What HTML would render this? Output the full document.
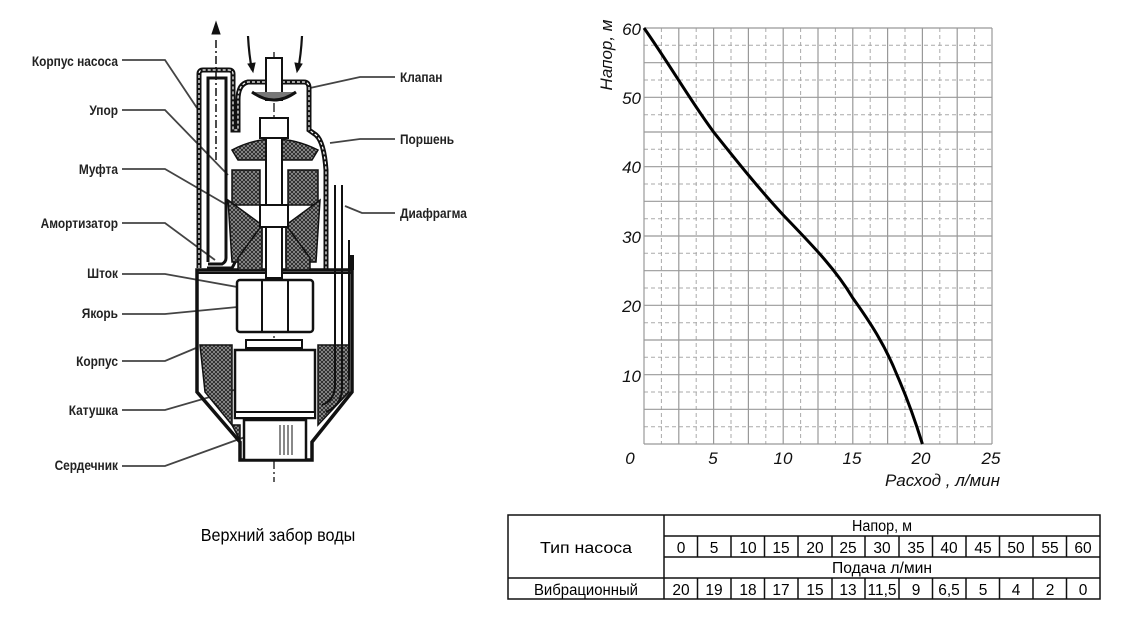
<!DOCTYPE html>
<html><head><meta charset="utf-8"><style>
html,body{margin:0;padding:0;background:#fff;}
svg{display:block}
.l{font-family:"Liberation Sans",sans-serif;font-size:14px;font-weight:bold;fill:#222;}
.g{font-family:"Liberation Sans",sans-serif;font-size:17px;font-style:italic;fill:#111;}
.t{font-family:"Liberation Sans",sans-serif;font-size:15.5px;fill:#000;}
</style></head><body>
<svg width="1128" height="631" viewBox="0 0 1128 631" xmlns="http://www.w3.org/2000/svg">
<defs>
<pattern id="h" width="4" height="4" patternUnits="userSpaceOnUse">
<rect width="4" height="4" fill="#999"/><path d="M0 0L4 4M4 0L0 4" stroke="#222" stroke-width="0.9"/>
</pattern>
</defs>

<!-- LEFT LABELS -->
<g class="l" text-anchor="end">
<text x="118" y="66" transform="translate(118 0) scale(0.85 1) translate(-118 0)">Корпус насоса</text>
<text x="118" y="115" transform="translate(118 0) scale(0.85 1) translate(-118 0)">Упор</text>
<text x="118" y="174" transform="translate(118 0) scale(0.85 1) translate(-118 0)">Муфта</text>
<text x="118" y="228" transform="translate(118 0) scale(0.85 1) translate(-118 0)">Амортизатор</text>
<text x="118" y="278" transform="translate(118 0) scale(0.85 1) translate(-118 0)">Шток</text>
<text x="118" y="318" transform="translate(118 0) scale(0.85 1) translate(-118 0)">Якорь</text>
<text x="118" y="366" transform="translate(118 0) scale(0.85 1) translate(-118 0)">Корпус</text>
<text x="118" y="415" transform="translate(118 0) scale(0.85 1) translate(-118 0)">Катушка</text>
<text x="118" y="470" transform="translate(118 0) scale(0.85 1) translate(-118 0)">Сердечник</text>
</g>
<g class="l">
<text x="400" y="82" transform="translate(400 0) scale(0.85 1) translate(-400 0)">Клапан</text>
<text x="400" y="144" transform="translate(400 0) scale(0.85 1) translate(-400 0)">Поршень</text>
<text x="400" y="218" transform="translate(400 0) scale(0.85 1) translate(-400 0)">Диафрагма</text>
</g>
<g stroke="#444" stroke-width="1.8" fill="none">
<path d="M122 60H165L197 108"/>
<path d="M122 110H165L228 175"/>
<path d="M122 169H165L227 205"/>
<path d="M122 223H165L215 260"/>
<path d="M122 274H165L265 292"/>
<path d="M122 314H165L248 306"/>
<path d="M122 361H165L196 348"/>
<path d="M122 410H165L255 384"/>
<path d="M122 466H165L245 437"/>
<path d="M395 77H360L310 88"/>
<path d="M395 139H360L330 143"/>
<path d="M395 213H362L345 206"/>
</g>

<!-- PUMP DRAWING -->
<g stroke="#111" fill="none">
<path d="M216 160V38" stroke-width="1.5" stroke-dasharray="8 3 2 3"/>
<path d="M216 22l-4 12h8z" fill="#111"/>
<path d="M274 52V482" stroke-width="1.3" stroke-dasharray="9 3 2 3"/>
<path d="M248 36Q249 55 252 70" stroke-width="2.2"/>
<path d="M302 36Q301 55 298 70" stroke-width="2.2"/>
<path d="M248 64l5 8 2-9z" fill="#111"/>
<path d="M302 64l-5 8-2-9z" fill="#111"/>
<path d="M199 268V74Q199 70 203 70H229Q233 70 233 74V130H238V100Q238 84 248 82H304Q309 82 309 88V130L316 135Q324 142 326 170V270" stroke-width="5"/>
<path d="M199 268V74Q199 70 203 70H229Q233 70 233 74V130H238V100Q238 84 248 82H304Q309 82 309 88V130L316 135Q324 142 326 170V270" stroke="#fff" stroke-width="1.2" stroke-dasharray="3 2"/>
<path d="M208 262V78H226V258Q226 262 222 264H208" stroke-width="3"/>
<path d="M207 268H232Q238 258 240 246" stroke-width="3"/>
<path d="M197 270V392L240 442V460H312V442L352 392V270Z" stroke-width="3.5"/>
<path d="M197 273H352" stroke-width="2"/>
</g>
<g stroke="#111" stroke-width="1.5">
<path d="M232 150Q274 128 318 150L312 160H238Z" fill="url(#h)"/>
<path d="M232 170H260V205H232Z" fill="url(#h)"/>
<path d="M288 170H318V205H288Z" fill="url(#h)"/>
<path d="M228 200L232 262H262V225Z" fill="url(#h)"/>
<path d="M320 200L316 262H286V225Z" fill="url(#h)"/>
<path d="M238 258L262 225V270H238Z" fill="url(#h)"/>
<path d="M310 258L286 225V270H310Z" fill="url(#h)"/>
<path d="M200 345H232V425L205 392Z" fill="url(#h)"/>
<path d="M318 345H349V392L318 425Z" fill="url(#h)"/>
<path d="M232 425L240 440V425Z" fill="url(#h)"/>
</g>
<g stroke="#111" fill="#fff">
<rect x="266" y="58" width="16" height="42" stroke-width="2"/>
<path d="M252 92Q274 108 296 92" stroke-width="3" fill="#777"/>
<rect x="260" y="118" width="28" height="20" stroke-width="2"/>
<rect x="266" y="138" width="16" height="140" stroke-width="2"/>
<rect x="260" y="205" width="28" height="22" stroke-width="2"/>
<rect x="237" y="280" width="76" height="52" rx="3" stroke-width="2.5"/>
<path d="M262 280V332M288 280V332" stroke-width="2"/>
<rect x="246" y="340" width="56" height="8" stroke-width="2"/>
<rect x="235" y="350" width="80" height="68" stroke-width="2.5"/>
<rect x="235" y="412" width="80" height="6" stroke-width="2"/>
<rect x="244" y="420" width="62" height="40" stroke-width="2.5"/>
<path d="M280 425V455M284 425V455M288 425V455M292 425V455" stroke-width="1"/>
</g>
<g stroke="#111" fill="none" stroke-width="2">
<path d="M335 185V385Q335 400 322 405"/>
<path d="M342 185V388Q342 405 326 412"/>
<path d="M349 240V380"/>
<path d="M352 255V270" stroke-width="4"/>
</g>

<text x="278" y="541" text-anchor="middle" font-family="Liberation Sans, sans-serif" font-size="18" fill="#000" transform="translate(278 0) scale(0.9 1) translate(-278 0)">Верхний забор воды</text>

<!-- GRAPH -->
<g stroke="#aaa" stroke-width="1" stroke-dasharray="4 3">
<path d="M661.4 28V444M696.2 28V444M731 28V444M765.8 28V444M800.6 28V444M835.4 28V444M870.2 28V444M905 28V444M939.8 28V444M974.6 28V444"/>
<path d="M644 45.3H992M644 80H992M644 114.7H992M644 149.3H992M644 184H992M644 218.7H992M644 253.3H992M644 288H992M644 322.7H992M644 357.3H992M644 392H992M644 426.7H992"/>
</g>
<g stroke="#999" stroke-width="1.2">
<path d="M644 28V444M678.8 28V444M713.6 28V444M748.4 28V444M783.2 28V444M818 28V444M852.8 28V444M887.6 28V444M922.4 28V444M957.2 28V444M992 28V444"/>
<path d="M644 28H992M644 62.7H992M644 97.3H992M644 132H992M644 166.7H992M644 201.3H992M644 236H992M644 270.7H992M644 305.3H992M644 340H992M644 374.7H992M644 409.3H992M644 444H992"/>
</g>
<path d="M644 28C670 65 690 100 713.6 132C740 165 760 190 783.2 215C810 243 835 268 852.8 298C870 322 885 345 897 375C908 400 915 420 922.4 444" stroke="#000" stroke-width="3" fill="none"/>
<g class="g" text-anchor="end">
<text x="641" y="35">60</text><text x="641" y="104">50</text><text x="641" y="173">40</text>
<text x="641" y="243">30</text><text x="641" y="312">20</text><text x="641" y="382">10</text>
</g>
<g class="g" text-anchor="middle">
<text x="630" y="464">0</text><text x="713" y="464">5</text><text x="783" y="464">10</text>
<text x="852" y="464">15</text><text x="921" y="464">20</text><text x="991" y="464">25</text>
</g>
<text class="g" x="1000" y="486" text-anchor="end">Расход , л/мин</text>
<text class="g" x="0" y="0" text-anchor="middle" transform="translate(612 55) rotate(-90)">Напор, м</text>

<!-- TABLE -->
<g stroke="#111" stroke-width="1.5" fill="none">
<rect x="508" y="515" width="592" height="84"/>
<path d="M508 578H1100M664 515V599M664 536H1100M664 557H1100"/>
<path d="M697.5 536V557M731 536V557M764.5 536V557M798 536V557M832 536V557M865 536V557M899 536V557M932.5 536V557M966 536V557M999.5 536V557M1033 536V557M1066.5 536V557"/>
<path d="M697.5 578V599M731 578V599M764.5 578V599M798 578V599M832 578V599M865 578V599M899 578V599M932.5 578V599M966 578V599M999.5 578V599M1033 578V599M1066.5 578V599"/>
</g>
<g class="t" text-anchor="middle">
<text x="586" y="553" textLength="92" lengthAdjust="spacingAndGlyphs">Тип насоса</text>
<text x="586" y="595" textLength="104" lengthAdjust="spacingAndGlyphs">Вибрационный</text>
<text x="882" y="531" textLength="60" lengthAdjust="spacingAndGlyphs">Напор, м</text>
<text x="882" y="573" textLength="100" lengthAdjust="spacingAndGlyphs">Подача л/мин</text>
<text x="681" y="553">0</text><text x="714" y="553">5</text><text x="748" y="553">10</text><text x="781" y="553">15</text><text x="815" y="553">20</text><text x="848" y="553">25</text><text x="882" y="553">30</text><text x="916" y="553">35</text><text x="949" y="553">40</text><text x="983" y="553">45</text><text x="1016" y="553">50</text><text x="1050" y="553">55</text><text x="1083" y="553">60</text>
<text x="681" y="595">20</text><text x="714" y="595">19</text><text x="748" y="595">18</text><text x="781" y="595">17</text><text x="815" y="595">15</text><text x="848" y="595">13</text><text x="882" y="595" textLength="29" lengthAdjust="spacingAndGlyphs">11,5</text><text x="916" y="595">9</text><text x="949" y="595">6,5</text><text x="983" y="595">5</text><text x="1016" y="595">4</text><text x="1050" y="595">2</text><text x="1083" y="595">0</text>
</g>
</svg>
</body></html>
